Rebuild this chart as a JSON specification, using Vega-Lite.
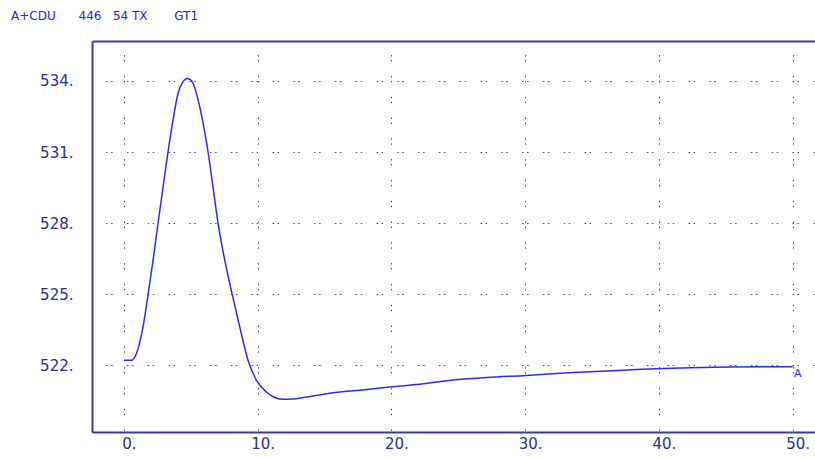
{
  "$schema": "https://vega.github.io/schema/vega-lite/v6.json",
  "autosize": {"type": "none"},
  "padding": {"left": 92, "top": 41, "right": 0, "bottom": 25},
  "width": 723,
  "height": 391,
  "background": "white",
  "title": {
    "text": "A+CDU\u00a0\u00a0\u00a0\u00a0\u00a0\u00a0446\u00a0\u00a0\u00a054\u00a0TX\u00a0\u00a0\u00a0\u00a0\u00a0\u00a0\u00a0GT1",
    "anchor": "start",
    "frame": "group",
    "dx": -81,
    "offset": 9,
    "baseline": "alphabetic",
    "font": "DejaVu Sans",
    "fontSize": 12,
    "fontWeight": "normal",
    "color": "#2424e0"
  },
  "config": {
    "view": {"stroke": null},
    "axis": {
      "labelFont": "DejaVu Sans",
      "labelFontSize": 15,
      "labelColor": "#2c2c90",
      "domainColor": "#3a3aa0",
      "domainWidth": 2,
      "ticks": false,
      "title": null,
      "gridColor": "#4848a8",
      "gridWidth": 1,
      "gridDash": [1.5, 3.5, 1.5, 14.3],
      "gridDashOffset": 7.2,
      "gridOpacity": 1
    }
  },
  "layer": [
    {
      "data": {"values": [
        {"t": 0, "v": 522.2},
        {"t": 0.55, "v": 522.2},
        {"t": 0.93, "v": 522.48},
        {"t": 1.43, "v": 523.61},
        {"t": 1.8, "v": 524.95},
        {"t": 2.18, "v": 526.43},
        {"t": 2.55, "v": 527.98},
        {"t": 2.93, "v": 529.53},
        {"t": 3.3, "v": 531.01},
        {"t": 3.67, "v": 532.35},
        {"t": 4.05, "v": 533.48},
        {"t": 4.42, "v": 533.97},
        {"t": 4.72, "v": 534.11},
        {"t": 4.95, "v": 534.07},
        {"t": 5.17, "v": 533.9},
        {"t": 5.67, "v": 532.91},
        {"t": 6.29, "v": 531.0},
        {"t": 6.66, "v": 529.53},
        {"t": 7.04, "v": 527.98},
        {"t": 7.54, "v": 526.43},
        {"t": 8.11, "v": 524.95},
        {"t": 8.66, "v": 523.61},
        {"t": 9.28, "v": 522.2},
        {"t": 9.91, "v": 521.35},
        {"t": 10.66, "v": 520.86},
        {"t": 11.2, "v": 520.65},
        {"t": 11.9, "v": 520.55},
        {"t": 12.5, "v": 520.56},
        {"t": 13.65, "v": 520.65},
        {"t": 15.15, "v": 520.79},
        {"t": 16.14, "v": 520.86},
        {"t": 17.64, "v": 520.93},
        {"t": 19.13, "v": 521.03},
        {"t": 21.88, "v": 521.18},
        {"t": 24.61, "v": 521.37},
        {"t": 27.11, "v": 521.47},
        {"t": 30.1, "v": 521.56},
        {"t": 33.59, "v": 521.68},
        {"t": 36.09, "v": 521.75},
        {"t": 38.7, "v": 521.82},
        {"t": 41.57, "v": 521.87},
        {"t": 45.44, "v": 521.92},
        {"t": 50, "v": 521.93}
      ]},
      "mark": {"type": "line", "color": "#2a2aff", "strokeWidth": 1.5, "interpolate": "monotone", "clip": true},
      "encoding": {
        "x": {
          "field": "t", "type": "quantitative",
          "scale": {"domain": [-2.386, 51.67], "nice": false, "zero": false},
          "axis": {
            "orient": "bottom",
            "values": [0, 10, 20, 30, 40, 50],
            "labelExpr": "datum.label + '.'",
            "labelPadding": 4,
            "labelAlign": "center",
            "labelOffset": 5,
            "labelFlush": false,
            "labelOverlap": false
          }
        },
        "y": {
          "field": "v", "type": "quantitative",
          "scale": {"domain": [519.17, 535.69], "nice": false, "zero": false},
          "axis": {
            "values": [522, 525, 528, 531, 534],
            "labelExpr": "datum.label + '.'",
            "labelPadding": 19,
            "labelFlush": false,
            "labelOverlap": false
          }
        }
      }
    },
    {
      "data": {"values": [{"t": 50, "v": 521.93, "label": "A"}]},
      "mark": {"type": "text", "font": "DejaVu Sans", "fontSize": 11, "color": "#2a2aff", "align": "center", "baseline": "middle", "dx": 5, "dy": 7},
      "encoding": {
        "x": {"field": "t", "type": "quantitative", "axis": {"orient": "top", "labels": false, "grid": false, "ticks": false, "domain": true}},
        "y": {"field": "v", "type": "quantitative"},
        "text": {"field": "label"}
      }
    }
  ]
}
